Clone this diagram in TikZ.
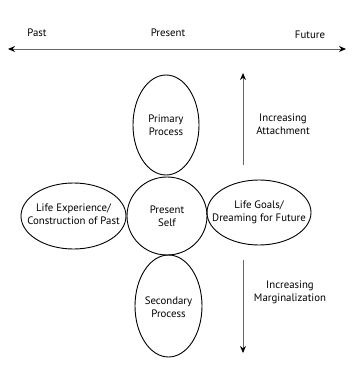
\documentclass[tikz,border=0pt]{standalone}
\usepackage{fontspec}
\setmainfont{PT Sans}
\usetikzlibrary{arrows.meta}
\tikzset{
	blobtext/.style={align=center, inner sep=0pt, font=\fontsize{10.8}{13}\selectfont}
}
\tikzset{
	blobline/.style={line width=0.9pt}
}
\tikzset{
	timetext/.style={font=\fontsize{10.8}{13}\selectfont}
}
\tikzset{
	trend/.style={line width=1pt, draw=black!60}
}
\begin{document}
\begin{tikzpicture}[x=1pt, y=-1pt, >={Stealth[length=7pt, width=6pt, color=black]}]
      \useasboundingbox (0,0) rectangle (356,380);
      % time line
      \coordinate (pastend)   at (8,49);
      \coordinate (futureend) at (346,49);
      \draw[trend, <->] (pastend) -- (futureend);
      \node[timetext] (past)    at (37,33)  {Past};
      \node[timetext] (present) at (168,33) {Present};
      \node[timetext] (future)  at (310,35) {Future};
      % self and its parts
      \node[blobtext] (primary)   at (166,125)   {Primary\\Process};
      \node[blobtext] (self)      at (167,216)   {Present\\Self};
      \node[blobtext] (pastself)  at (73.5,214)  {Life Experience/\\Construction of Past};
      \node[blobtext] (goals)     at (259,212)   {Life Goals/\\Dreaming for Future};
      \node[blobtext] (secondary) at (168.5,307) {Secondary\\Process};
      \draw[blobline] (166,125)   ellipse [x radius=33pt, y radius=50pt];
      \draw[blobline] (167,216)   ellipse [x radius=40pt, y radius=39pt];
      \draw[blobline] (73.5,216)  ellipse [x radius=52.5pt, y radius=33pt];
      \draw[blobline] (259,212.5) ellipse [x radius=52pt, y radius=32.5pt];
      \draw[blobline] (168.5,306) ellipse [x radius=33.5pt, y radius=51pt];
      % attachment and marginalization
      \coordinate (upstart)   at (243,165);
      \coordinate (uptip)     at (243,73);
      \coordinate (downstart) at (243,260);
      \coordinate (downtip)   at (243,353);
      \draw[trend, ->] (upstart) -- (uptip);
      \draw[trend, ->] (downstart) -- (downtip);
      \node[timetext, align=center] (attach) at (283,124) {Increasing\\Attachment};
      \node[timetext, align=center] (margin) at (290,292) {Increasing\\Marginalization};
\end{tikzpicture}
\end{document}
